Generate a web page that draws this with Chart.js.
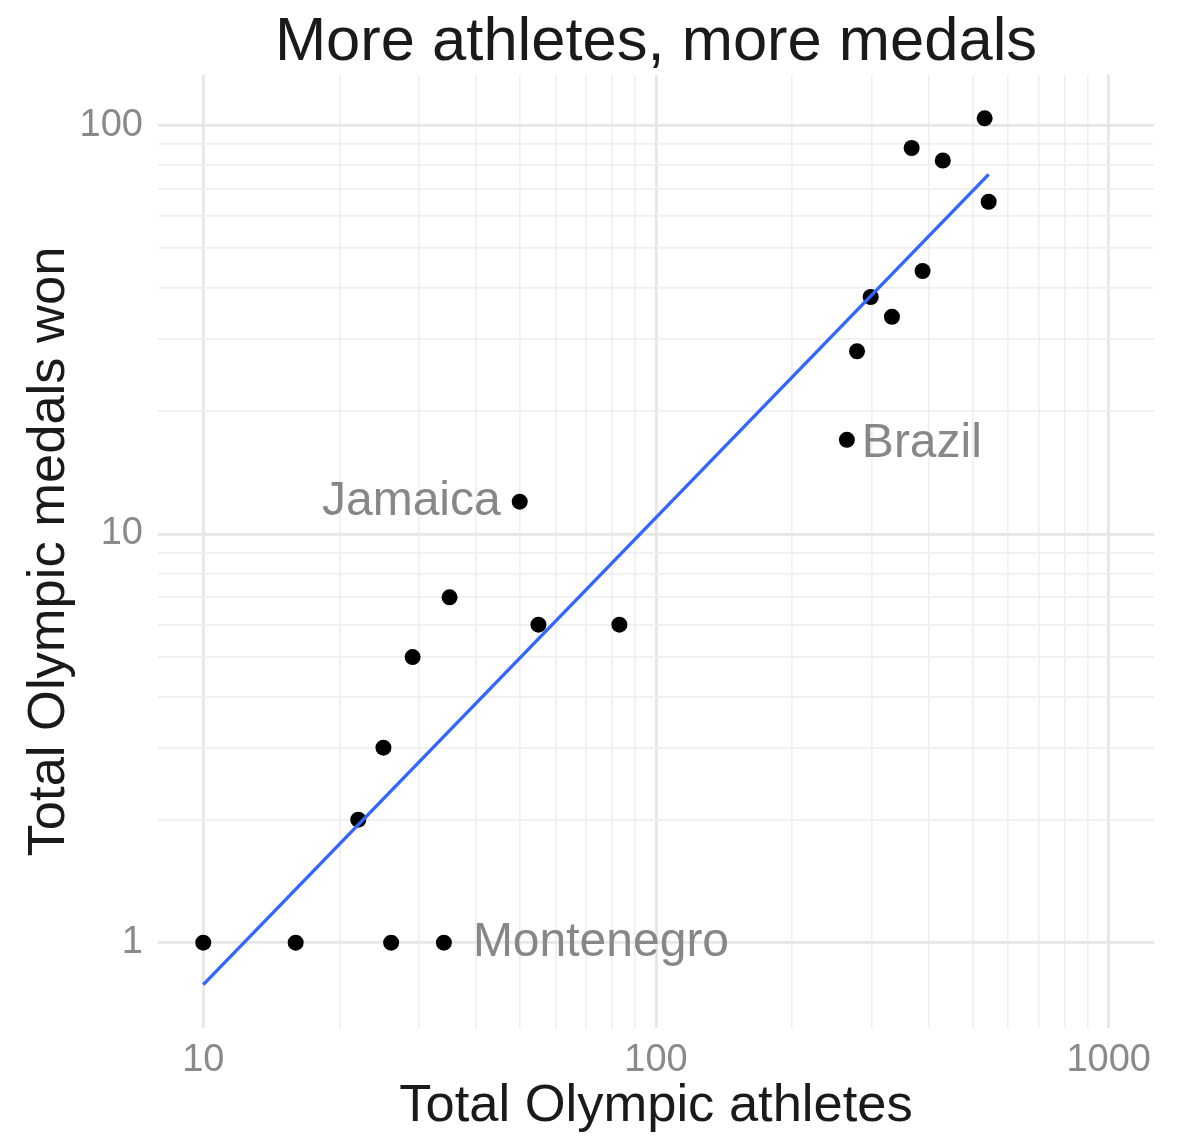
<!DOCTYPE html>
<html>
<head>
<meta charset="utf-8">
<title>More athletes, more medals</title>
<script src="https://cdn.jsdelivr.net/npm/chart.js@4.4.1/dist/chart.umd.min.js"></script>
<style>
  html, body { margin: 0; padding: 0; background: #ffffff; }
  #wrap { width: 1178px; height: 1140px; }
</style>
</head>
<body>
<div id="wrap"><canvas id="chart" width="1178" height="1140"></canvas></div>
<script>
// Olympic delegations: athletes sent and medals won
const athletes = [10, 16, 26, 34, 22, 25, 29, 35, 55, 83, 50, 264, 532, 367, 430, 543, 388, 298, 332, 278];
const medals   = [ 1,  1,  1,  1,  2,  3,  5,  7,  6,  6, 12,  17, 104,  88,  82,  65,  44,  38,  34,  28];
const countryLabels = ['', '', '', 'Montenegro', '', '', '', '', '', '', 'Jamaica', 'Brazil', '', '', '', '', '', '', '', ''];

// Axis breaks (log10 scales): gridlines at every 1..9 step, labels at decades
const xTickValues = [10, 20, 30, 40, 50, 60, 70, 80, 90, 100, 200, 300, 400, 500, 600, 700, 800, 900, 1000];
const yTickValues = [1, 2, 3, 4, 5, 6, 7, 8, 9, 10, 20, 30, 40, 50, 60, 70, 80, 90, 100];
const decadeLabels = [1, 10, 100, 1000];
const xLimits = [10, 1000];

const chartTitle = 'More athletes, more medals';
const FONT = '"Liberation Sans", Arial, Helvetica, sans-serif';

// Least-squares fit of log10(medals) on log10(athletes)
const lx = athletes.map(Math.log10);
const ly = medals.map(Math.log10);
const mx = lx.reduce((a, b) => a + b, 0) / lx.length;
const my = ly.reduce((a, b) => a + b, 0) / ly.length;
let sxy = 0, sxx = 0;
lx.forEach((v, i) => { sxy += (v - mx) * (ly[i] - my); sxx += (v - mx) * (v - mx); });
const slope = sxy / sxx;
const intercept = my - slope * mx;
const fitAt = v => Math.pow(10, intercept + slope * Math.log10(v));
const xLo = Math.min(...athletes), xHi = Math.max(...athletes);
const fitLine = [{ x: xLo, y: fitAt(xLo) }, { x: xHi, y: fitAt(xHi) }];

// 5% expansion of each range in log space
function expandLog(lo, hi) {
  const a = Math.log10(lo), b = Math.log10(hi), pad = (b - a) * 0.05;
  return [Math.pow(10, a - pad), Math.pow(10, b + pad)];
}
const xRange = expandLog(xLimits[0], xLimits[1]);
const yAll = medals.concat(fitLine.map(p => p.y));
const yRange = expandLog(Math.min(...yAll), Math.max(...yAll));

const isDecade = v => decadeLabels.some(d => Math.abs(d - v) < 1e-9);

const gridStyle = {
  drawTicks: false,
  color: ctx => (ctx.tick && isDecade(ctx.tick.value)) ? '#e6e6e6' : '#efefef',
  lineWidth: ctx => (ctx.tick && isDecade(ctx.tick.value)) ? 2.8 : 1.7
};

// Country names placed beside their points
const labelPlacement = {
  Jamaica:    { align: 'right', dx: -19, dy: 0 },
  Brazil:     { align: 'left',  dx: 15,  dy: 4 },
  Montenegro: { align: 'left',  dx: 29,  dy: 0 }
};

const pointText = {
  id: 'pointText',
  afterDatasetsDraw(chart) {
    const { ctx, scales: { x, y } } = chart;
    ctx.save();
    ctx.font = '48px ' + FONT;
    ctx.fillStyle = '#878787';
    ctx.textBaseline = 'middle';
    countryLabels.forEach((name, i) => {
      if (!name) return;
      const p = labelPlacement[name] || { align: 'left', dx: 15, dy: 0 };
      ctx.textAlign = p.align;
      ctx.fillText(name, x.getPixelForValue(athletes[i]) + p.dx, y.getPixelForValue(medals[i]) + p.dy);
    });
    ctx.restore();
  }
};

// Title centred over the plotting panel
const panelTitle = {
  id: 'panelTitle',
  afterDraw(chart) {
    const { ctx, chartArea } = chart;
    ctx.save();
    ctx.font = '61.5px ' + FONT;
    ctx.fillStyle = '#1a1a1a';
    ctx.textAlign = 'center';
    ctx.textBaseline = 'alphabetic';
    ctx.fillText(chartTitle, (chartArea.left + chartArea.right) / 2, 60);
    ctx.restore();
  }
};

new Chart(document.getElementById('chart'), {
  type: 'scatter',
  data: {
    datasets: [
      {
        type: 'line',
        data: fitLine,
        borderColor: '#3366FF',
        borderWidth: 3.4,
        pointRadius: 0,
        fill: false,
        order: 0
      },
      {
        data: athletes.map((a, i) => ({ x: a, y: medals[i] })),
        backgroundColor: '#000000',
        borderWidth: 0,
        pointRadius: 8,
        pointHoverRadius: 8,
        order: 1
      }
    ]
  },
  options: {
    responsive: false,
    animation: false,
    events: [],
    layout: { padding: { left: 0, right: 24, top: 75, bottom: 0 } },
    plugins: {
      legend: { display: false },
      tooltip: { enabled: false },
      title: { display: false }
    },
    scales: {
      x: {
        type: 'logarithmic',
        bounds: 'data',
        min: xRange[0],
        max: xRange[1],
        afterBuildTicks: s => { s.ticks = xTickValues.map(v => ({ value: v })); },
        afterFit: s => { s.height = 112; },
        border: { display: false },
        grid: gridStyle,
        ticks: {
          autoSkip: false,
          maxRotation: 0,
          padding: 10,
          color: '#8a8a8a',
          font: { family: FONT, size: 38 },
          callback: v => isDecade(v) ? String(v) : ''
        },
        title: {
          display: true,
          text: 'Total Olympic athletes',
          color: '#1a1a1a',
          font: { family: FONT, size: 52.5 },
          padding: { top: 0, bottom: 2 }
        }
      },
      y: {
        type: 'logarithmic',
        bounds: 'data',
        min: yRange[0],
        max: yRange[1],
        afterBuildTicks: s => { s.ticks = yTickValues.map(v => ({ value: v })); },
        afterFit: s => { s.width = 158; },
        border: { display: false },
        grid: gridStyle,
        ticks: {
          autoSkip: false,
          padding: 15,
          color: '#8a8a8a',
          font: { family: FONT, size: 38 },
          callback: v => isDecade(v) ? String(v) : ''
        },
        title: {
          display: true,
          text: 'Total Olympic medals won',
          color: '#1a1a1a',
          font: { family: FONT, size: 52.5 },
          padding: { top: 18, bottom: 0 }
        }
      }
    }
  },
  plugins: [pointText, panelTitle]
});
</script>
</body>
</html>
